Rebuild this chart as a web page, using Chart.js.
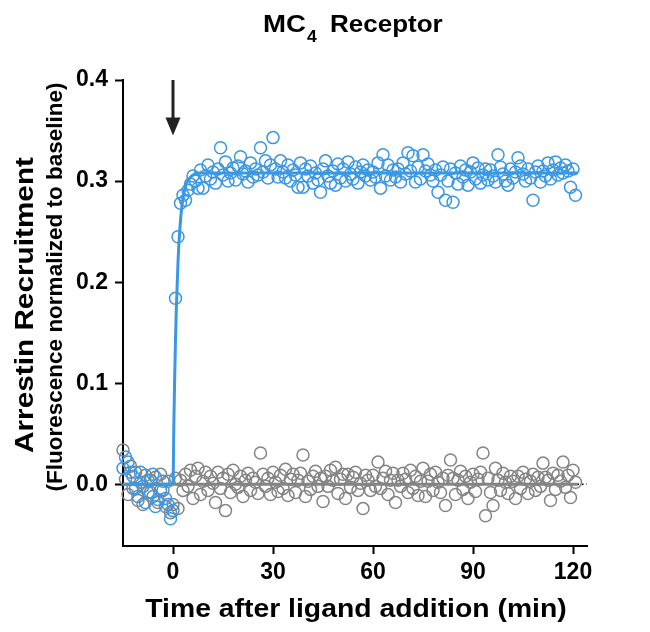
<!DOCTYPE html>
<html>
<head>
<meta charset="utf-8">
<script src="https://cdn.jsdelivr.net/npm/chart.js@4.4.1/dist/chart.umd.min.js"></script>
<style>
  html, body { margin: 0; padding: 0; background: #fff; }
  #chart { display: block; }
</style>
</head>
<body>
<canvas id="chart" width="650" height="632"></canvas>
<script>
// sampling grid (min after ligand addition), one read every 45 s
const timeStart = -15;
const timeStep = 0.75;

// MC4 receptor, arrestin recruitment (blue)
const mc4Values = [
  0.016, 0.027, 0.022, 0.012, 0.008, -0.004, -0.012, 0.012, -0.002, -0.018,
  0.004, -0.008, 0.010, -0.022, -0.015, -0.006, 0.003, -0.014, -0.020, -0.034,
  -0.026,
  0.184, 0.245, 0.278, 0.286, 0.281, 0.291, 0.297, 0.305,
  0.300, 0.293, 0.311, 0.293, 0.305, 0.316, 0.302, 0.309, 0.298, 0.312,
  0.333, 0.306, 0.319, 0.300, 0.308, 0.313, 0.301, 0.315, 0.324, 0.307,
  0.310, 0.299, 0.318, 0.304, 0.312, 0.306, 0.333, 0.309, 0.320, 0.303,
  0.316, 0.343, 0.312, 0.304, 0.320, 0.309, 0.303, 0.316, 0.300, 0.311,
  0.306, 0.294, 0.318, 0.294, 0.312, 0.305, 0.315, 0.298, 0.308, 0.301,
  0.289, 0.312, 0.320, 0.305, 0.298, 0.310, 0.296, 0.317, 0.303, 0.312,
  0.300, 0.319, 0.307, 0.302, 0.314, 0.298, 0.309, 0.316, 0.305, 0.311,
  0.301, 0.309, 0.304, 0.318, 0.293, 0.326, 0.305, 0.316, 0.301, 0.311,
  0.304, 0.312, 0.299, 0.318, 0.307, 0.328, 0.310, 0.325, 0.299, 0.314,
  0.302, 0.326, 0.310, 0.317, 0.306, 0.300, 0.311, 0.289, 0.306, 0.314,
  0.281, 0.300, 0.312, 0.279, 0.308, 0.297, 0.315, 0.304, 0.311, 0.296,
  0.309, 0.318, 0.302, 0.313, 0.298, 0.306, 0.312, 0.301, 0.311, 0.305,
  0.299, 0.326, 0.314, 0.307, 0.300, 0.296, 0.312, 0.303, 0.309, 0.323,
  0.315, 0.307, 0.300, 0.312, 0.303, 0.281, 0.309, 0.315, 0.299, 0.310,
  0.305, 0.318, 0.302, 0.311, 0.319, 0.306, 0.313, 0.308, 0.316, 0.310,
  0.294, 0.312, 0.286
];

// control (gray)
const controlValues = [
  0.034, 0.005, -0.010, 0.018, -0.004, 0.012, -0.016, 0.002, -0.020, 0.009,
  -0.008, 0.004, -0.012, 0.007, -0.018, 0.010, -0.006, -0.022, 0.003, -0.028,
  -0.020, 0.006, -0.024, 0.004, -0.006, 0.010, -0.002, 0.014, -0.014, 0.008,
  0.016, -0.010, 0.003, 0.012, -0.006, 0.008, 0.001, -0.018, 0.012, -0.004,
  0.006, -0.026, 0.010, -0.008, 0.014, 0.000, -0.003, 0.008, -0.012, 0.004,
  0.011, -0.006, 0.006, 0.002, -0.009, 0.031, 0.010, -0.002, 0.006, -0.010,
  0.012, 0.002, -0.007, 0.009, -0.004, 0.015, -0.011, 0.005, 0.010, -0.008,
  0.004, 0.011, 0.029, -0.012, 0.003, -0.005, 0.008, 0.013, -0.002, 0.006,
  -0.017, 0.008, -0.002, 0.014, 0.004, 0.017, -0.009, 0.005, 0.010, -0.014,
  0.010, -0.003, 0.007, 0.012, -0.006, 0.001, -0.024, 0.009, 0.004, -0.006,
  0.009, -0.002, 0.022, -0.004, 0.006, 0.013, -0.010, 0.004, 0.011, -0.018,
  0.004, -0.002, 0.011, 0.005, -0.008, 0.014, -0.004, 0.008, -0.011, 0.003,
  0.016, -0.012, 0.003, 0.010, -0.006, 0.012, 0.002, -0.008, 0.006, -0.021,
  0.009, 0.024, 0.006, -0.010, 0.004, 0.013, -0.005, 0.008, -0.014, 0.002,
  0.010, -0.007, 0.005, 0.012, 0.031, -0.031, 0.006, -0.008, -0.021, 0.016,
  0.004, -0.006, 0.011, 0.002, -0.009, 0.008, 0.003, -0.014, 0.008, -0.004,
  0.012, 0.005, -0.009, 0.003, 0.010, -0.006, 0.007, -0.002, 0.021, 0.007,
  0.004, -0.016, 0.011, -0.005, 0.009, 0.003, 0.022, -0.003, 0.009, -0.013,
  0.014, 0.002
];

// fitted curves
const mc4FitTimes  = [-15, 0, 0.25, 0.5, 0.75, 1, 1.5, 2, 2.5, 3, 4, 5, 6, 8, 121.5];
const mc4FitValues = [0, 0, 0.058, 0.104, 0.143, 0.174, 0.220, 0.250, 0.270, 0.283, 0.297, 0.303, 0.306, 0.308, 0.308];
const controlFitTimes  = [-15, 121.5];
const controlFitValues = [0, 0];

const xTicks = [0, 30, 60, 90, 120];
const yTicks = [0, 0.1, 0.2, 0.3, 0.4];
const ligandTime = 0; // arrow position

const BLUE = "#3a97e4";
const GRAY = "#848484";
const FONT = "'Liberation Sans', Arial, sans-serif";

const toPoints = (vals) => vals.map((v, i) => ({ x: timeStart + i * timeStep, y: v }));
const zip = (xs, ys) => xs.map((x, i) => ({ x: x, y: ys[i] }));

// draws text with a horizontal stretch (reference lettering is a bit wide)
function wideText(ctx, text, x, y, size, sx, align) {
  ctx.save();
  ctx.translate(x, y);
  ctx.scale(sx, 1);
  ctx.font = "bold " + size + "px " + FONT;
  ctx.textAlign = align || "left";
  ctx.textBaseline = "alphabetic";
  ctx.fillText(text, 0, 0);
  ctx.restore();
}

const extras = {
  id: "extras",
  beforeDatasetsDraw(chart) {
    const { ctx, chartArea, scales } = chart;
    const y0 = scales.y.getPixelForValue(0);
    // dotted baseline
    ctx.save();
    ctx.strokeStyle = "#000";
    ctx.lineWidth = 1.5;
    ctx.setLineDash([1.5, 3]);
    ctx.beginPath();
    ctx.moveTo(chartArea.left, y0);
    ctx.lineTo(chartArea.right, y0);
    ctx.stroke();
    ctx.restore();
  },
  afterDraw(chart) {
    const { ctx, scales } = chart;
    const ax = scales.x.getPixelForValue(ligandTime);
    const aTop = scales.y.getPixelForValue(0.4);
    const aTip = scales.y.getPixelForValue(0.345);

    ctx.save();
    ctx.fillStyle = "#222";
    ctx.strokeStyle = "#222";
    // ligand addition arrow
    ctx.lineWidth = 3;
    ctx.beginPath();
    ctx.moveTo(ax, aTop);
    ctx.lineTo(ax, aTip - 12);
    ctx.stroke();
    ctx.beginPath();
    ctx.moveTo(ax - 7.5, aTip - 18);
    ctx.lineTo(ax + 7.5, aTip - 18);
    ctx.lineTo(ax, aTip);
    ctx.closePath();
    ctx.fill();

    ctx.fillStyle = "#000";
    // title: MC4 Receptor
    wideText(ctx, "MC", 263, 32, 23, 1.2);
    wideText(ctx, "4", 307, 42, 16, 1.1);
    wideText(ctx, "Receptor", 330, 32, 23, 1.13);

    // x title
    wideText(ctx, "Time after ligand addition (min)", 356, 617, 26, 1.09, "center");

    // y titles, rotated
    ctx.save();
    ctx.translate(33, 305);
    ctx.rotate(-Math.PI / 2);
    wideText(ctx, "Arrestin Recruitment", 0, 0, 25, 1.19, "center");
    ctx.restore();
    ctx.save();
    ctx.translate(62, 287);
    ctx.rotate(-Math.PI / 2);
    wideText(ctx, "(Fluorescence normalized to baseline)", 0, 0, 22.5, 1.0, "center");
    ctx.restore();
    ctx.restore();
  }
};

new Chart(document.getElementById("chart").getContext("2d"), {
  type: "scatter",
  data: {
    datasets: [
      {
        type: "line",
        label: "MC4 fit",
        data: zip(mc4FitTimes, mc4FitValues),
        borderColor: BLUE,
        borderWidth: 3,
        pointRadius: 0,
        cubicInterpolationMode: "monotone",
        fill: false,
        order: 1,
      },
      {
        type: "line",
        label: "control fit",
        data: zip(controlFitTimes, controlFitValues),
        borderColor: GRAY,
        borderWidth: 3,
        pointRadius: 0,
        fill: false,
        order: 2,
      },
      {
        label: "MC4",
        data: toPoints(mc4Values),
        borderColor: BLUE,
        backgroundColor: "rgba(0,0,0,0)",
        borderWidth: 1.5,
        pointRadius: 6,
        clip: false,
        order: 3,
      },
      {
        label: "control",
        data: toPoints(controlValues),
        borderColor: GRAY,
        backgroundColor: "rgba(0,0,0,0)",
        borderWidth: 1.5,
        pointRadius: 6,
        clip: false,
        order: 4,
      },
    ],
  },
  options: {
    responsive: false,
    animation: false,
    devicePixelRatio: 1,
    layout: {
      padding: { left: 0, right: 63, top: 80, bottom: 0 },
    },
    scales: {
      x: {
        type: "linear",
        min: -15,
        max: 124.2,
        afterBuildTicks: (scale) => {
          scale.ticks = xTicks.map((v) => ({ value: v }));
        },
        afterFit: (scale) => {
          scale.height = 86;
        },
        grid: {
          drawOnChartArea: false,
          drawTicks: true,
          tickLength: 8,
          tickWidth: 2,
          tickColor: "#000",
        },
        border: { display: true, color: "#000", width: 2 },
        ticks: {
          color: "#000",
          font: { family: FONT, size: 23, weight: "bold" },
          padding: 5,
          maxRotation: 0,
        },
      },
      y: {
        type: "linear",
        min: -0.061,
        max: 0.4,
        afterBuildTicks: (scale) => {
          scale.ticks = yTicks.map((v) => ({ value: v }));
        },
        afterFit: (scale) => {
          scale.width = 123;
        },
        grid: {
          drawOnChartArea: false,
          drawTicks: true,
          tickLength: 8,
          tickWidth: 2,
          tickColor: "#000",
        },
        border: { display: true, color: "#000", width: 2 },
        ticks: {
          color: "#000",
          font: { family: FONT, size: 23, weight: "bold" },
          padding: 7,
          callback: (v) => v.toFixed(1),
        },
      },
    },
    plugins: {
      legend: { display: false },
      tooltip: { enabled: false },
      title: { display: false },
    },
  },
  plugins: [extras],
});
</script>
</body>
</html>
